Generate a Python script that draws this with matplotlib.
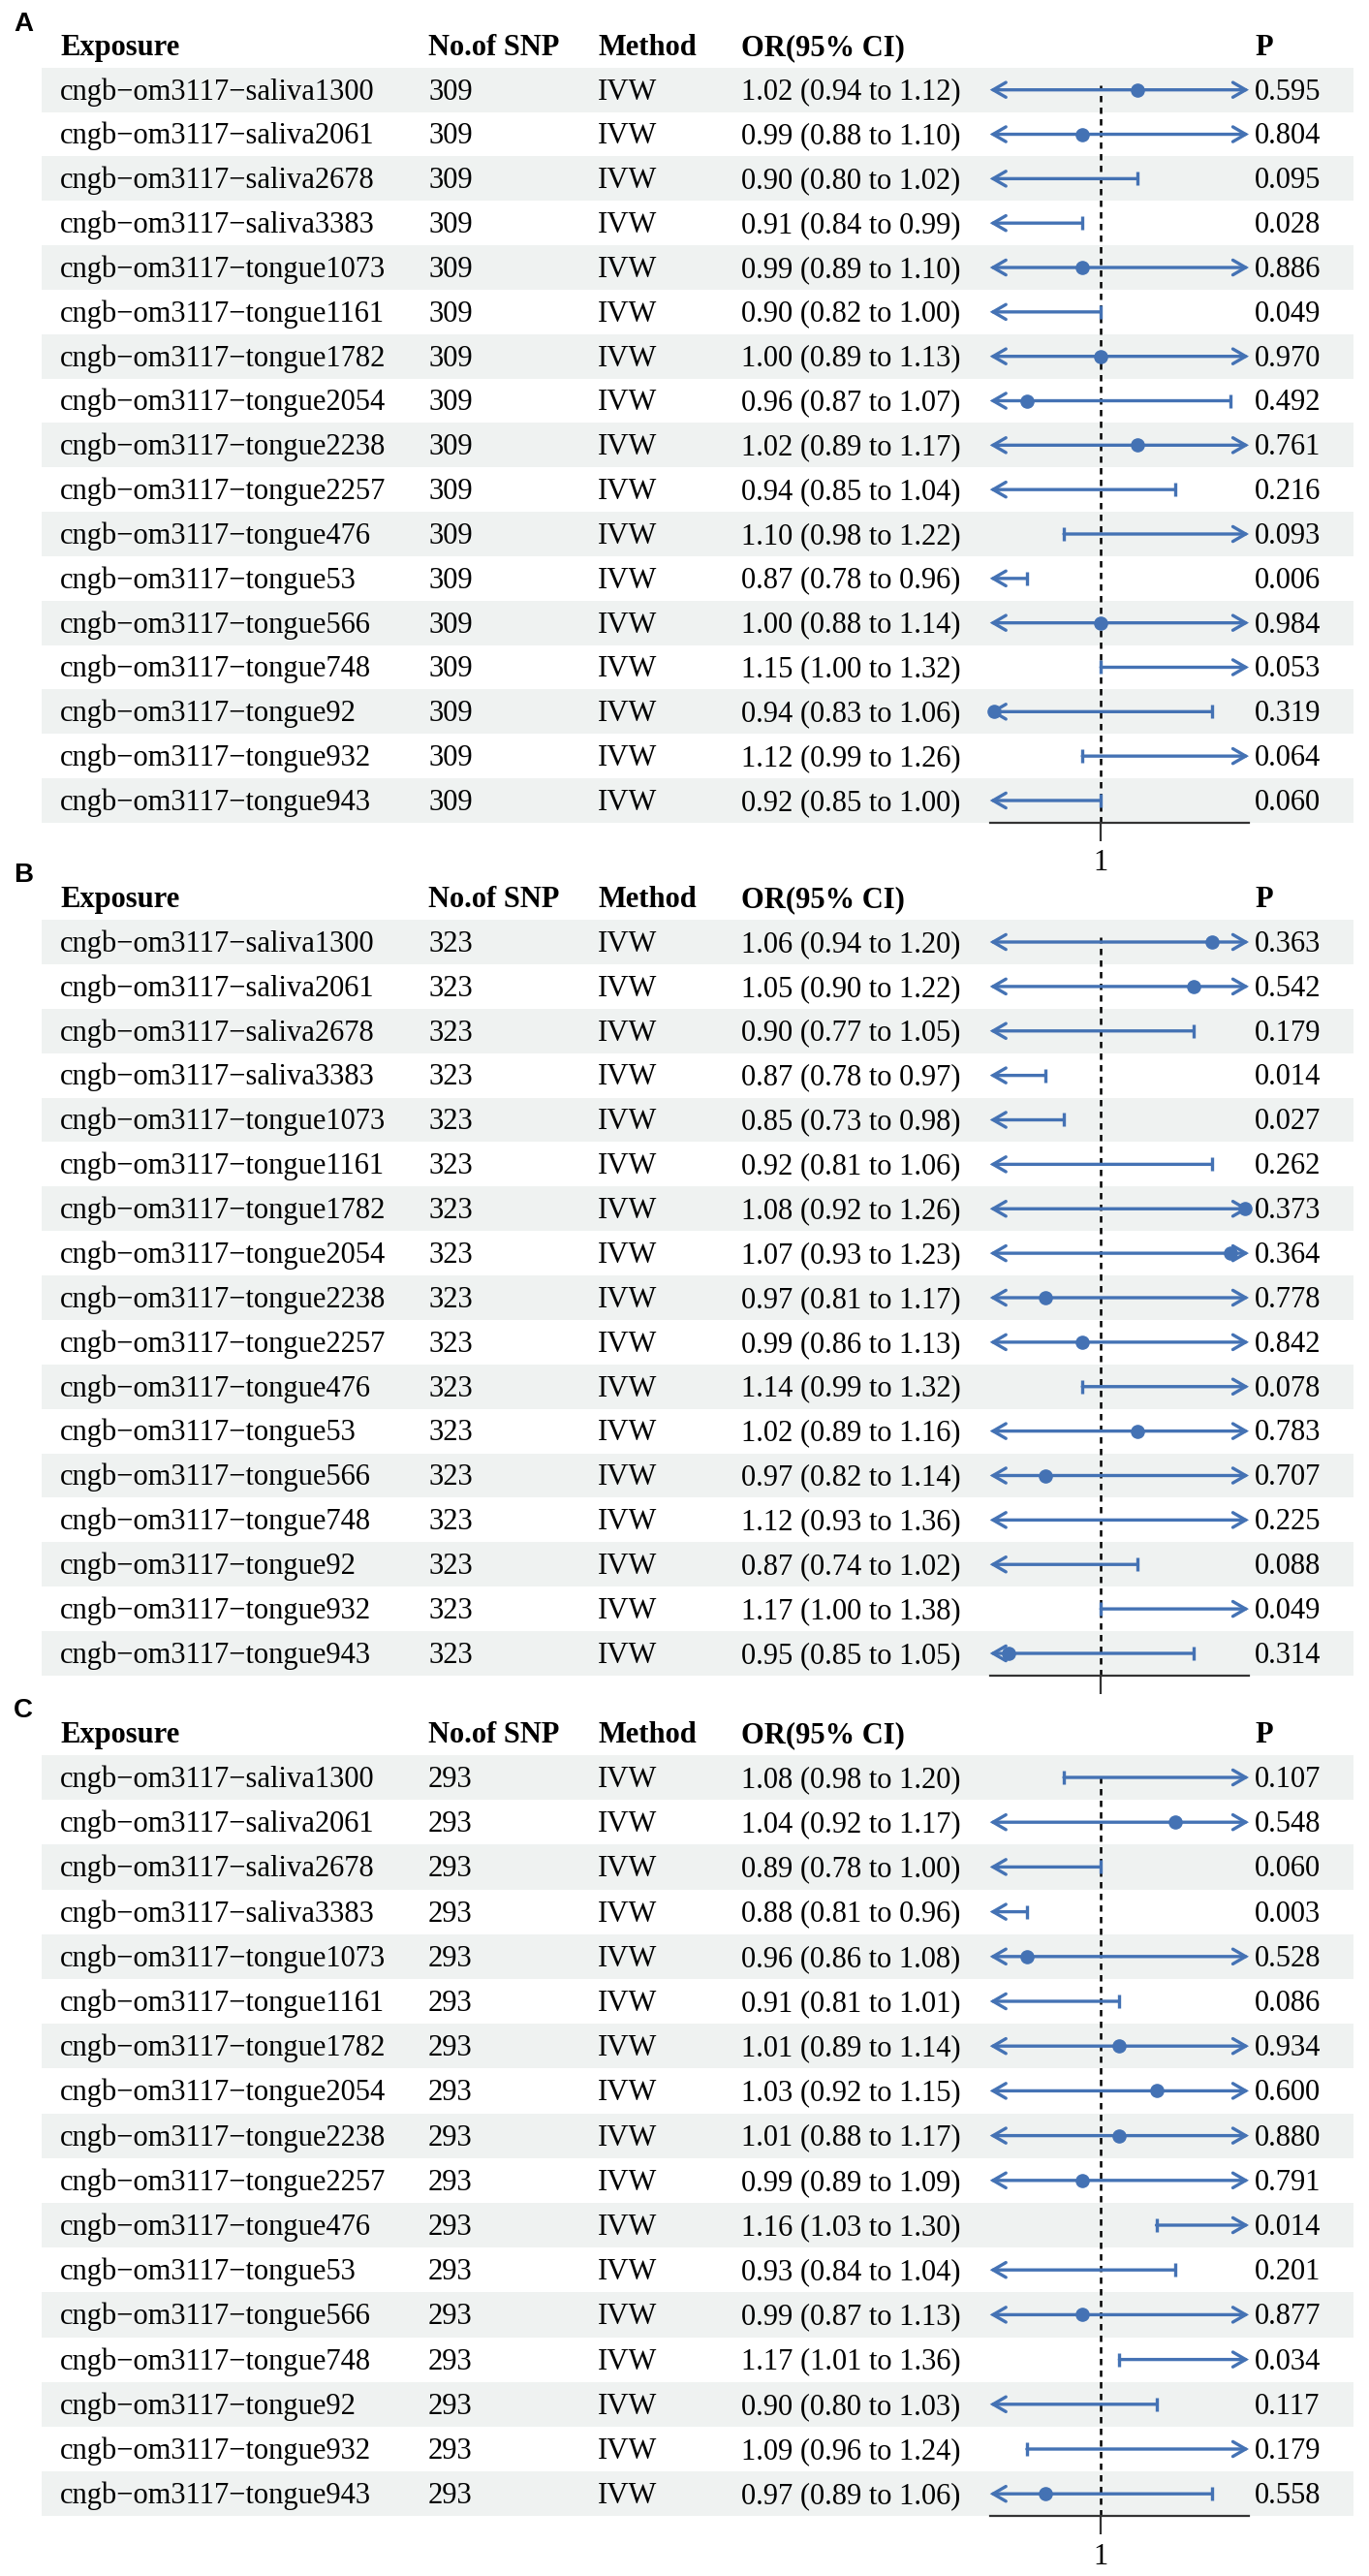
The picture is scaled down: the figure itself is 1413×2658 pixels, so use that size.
import numpy as np
import matplotlib.pyplot as plt

plt.rcParams['font.family'] = ['Liberation Serif', 'DejaVu Serif']

W, H, DPI = 1413, 2658, 100

# ---- data -------------------------------------------------------------
exposures = [
    "cngb−om3117−saliva1300", "cngb−om3117−saliva2061", "cngb−om3117−saliva2678",
    "cngb−om3117−saliva3383", "cngb−om3117−tongue1073", "cngb−om3117−tongue1161",
    "cngb−om3117−tongue1782", "cngb−om3117−tongue2054", "cngb−om3117−tongue2238",
    "cngb−om3117−tongue2257", "cngb−om3117−tongue476", "cngb−om3117−tongue53",
    "cngb−om3117−tongue566", "cngb−om3117−tongue748", "cngb−om3117−tongue92",
    "cngb−om3117−tongue932", "cngb−om3117−tongue943",
]
method = "IVW"
headers = ["Exposure", "No.of SNP", "Method", "OR(95% CI)", "P"]

nsnp_a = 309
or_a = [1.02, 0.99, 0.90, 0.91, 0.99, 0.90, 1.00, 0.96, 1.02, 0.938, 1.10, 0.87, 1.00, 1.15, 0.942, 1.12, 0.92]
lo_a = [0.937, 0.88, 0.80, 0.84, 0.89, 0.82, 0.89, 0.87, 0.89, 0.85, 0.98, 0.78, 0.88, 1.00, 0.83, 0.99, 0.85]
hi_a = [1.12, 1.10, 1.02, 0.99, 1.10, 1.00, 1.13, 1.07, 1.17, 1.04, 1.22, 0.96, 1.14, 1.32, 1.06, 1.26, 1.00]
p_a = [0.595, 0.804, 0.095, 0.028, 0.886, 0.049, 0.970, 0.492, 0.761, 0.216, 0.093, 0.006, 0.984, 0.053, 0.319, 0.064, 0.060]

nsnp_b = 323
or_b = [1.06, 1.05, 0.90, 0.87, 0.85, 0.92, 1.078, 1.07, 0.97, 0.99, 1.14, 1.02, 0.97, 1.12, 0.87, 1.17, 0.95]
lo_b = [0.937, 0.90, 0.77, 0.78, 0.73, 0.81, 0.92, 0.93, 0.81, 0.86, 0.99, 0.89, 0.82, 0.93, 0.74, 1.00, 0.85]
hi_b = [1.20, 1.22, 1.05, 0.97, 0.98, 1.06, 1.26, 1.23, 1.17, 1.13, 1.32, 1.16, 1.14, 1.36, 1.02, 1.38, 1.05]
p_b = [0.363, 0.542, 0.179, 0.014, 0.027, 0.262, 0.373, 0.364, 0.778, 0.842, 0.078, 0.783, 0.707, 0.225, 0.088, 0.049, 0.314]

nsnp_c = 293
or_c = [1.082, 1.04, 0.89, 0.88, 0.96, 0.91, 1.01, 1.03, 1.01, 0.99, 1.16, 0.93, 0.99, 1.17, 0.90, 1.09, 0.97]
lo_c = [0.98, 0.92, 0.78, 0.81, 0.86, 0.81, 0.89, 0.92, 0.88, 0.89, 1.03, 0.84, 0.87, 1.01, 0.80, 0.96, 0.89]
hi_c = [1.20, 1.17, 1.00, 0.96, 1.082, 1.01, 1.14, 1.15, 1.17, 1.09, 1.30, 1.04, 1.13, 1.36, 1.03, 1.24, 1.06]
p_c = [0.107, 0.548, 0.060, 0.003, 0.528, 0.086, 0.934, 0.600, 0.880, 0.791, 0.014, 0.201, 0.877, 0.034, 0.117, 0.179, 0.558]

x_range = (0.94, 1.08)
ref = 1.0

# ---- style ------------------------------------------------------------
BLUE = '#4472B4'
BAND = '#EFF2F1'
AXC = '#333333'
FS = 22
LW = 2.4
col_x = [62, 442, 617, 765, 1295]
forest_px = (1021.7, 1289)
band_px = (43, 1397)
base_off = 0.215

# label, row-1 centre (px), row spacing (px), panel-letter y (px), show tick label
layout = [
    ("A", 92.7, 45.83, 25, True),
    ("B", 972.0, 45.875, 903, False),
    ("C", 1834.0, 46.2, 1765, True),
]
panels = [
    (nsnp_a, or_a, lo_a, hi_a, p_a),
    (nsnp_b, or_b, lo_b, hi_b, p_b),
    (nsnp_c, or_c, lo_c, hi_c, p_c),
]


def px_rect(x0, y0, x1, y1):
    return [x0 / W, 1 - y1 / H, (x1 - x0) / W, (y1 - y0) / H]


def draw_ci(ax, y, est, lo, hi):
    xmin, xmax = x_range
    a, b = max(lo, xmin), min(hi, xmax)
    left, right = lo <= xmin, hi >= xmax
    head = ',head_length=0.95,head_width=0.55'
    if left or right:
        style = {(True, True): '<->', (True, False): '<-', (False, True): '->'}[(left, right)]
        ax.annotate('', xy=(b, y), xytext=(a, y), annotation_clip=False,
                    arrowprops=dict(arrowstyle=style + head, color=BLUE, lw=LW,
                                    shrinkA=0, shrinkB=0, mutation_scale=10,
                                    joinstyle='miter'))
    else:
        ax.plot([a, b], [y, y], color=BLUE, lw=LW, solid_capstyle='butt', clip_on=False)
    if not left:
        ax.plot([lo], [y], marker='|', ms=9.5, mew=LW, color=BLUE, clip_on=False)
    if not right:
        ax.plot([hi], [y], marker='|', ms=9.5, mew=LW, color=BLUE, clip_on=False)
    if xmin <= est <= xmax:
        ax.plot([est], [y], 'o', ms=9.5, color=BLUE, clip_on=False, zorder=4)


fig = plt.figure(figsize=(W / DPI, H / DPI), dpi=DPI)

for (letter, row1, sp, lab_y, show_tick), (nsnp, ors, los, his, ps) in zip(layout, panels):
    top = row1 - 1.5 * sp
    bottom = row1 + 16.5 * sp
    n = len(exposures)
    rows = np.arange(1, n + 1)

    tab = fig.add_axes(px_rect(0, top, W, bottom))
    tab.set_xlim(0, W)
    tab.set_ylim(n + 0.5, -0.5)
    tab.axis('off')
    for r in rows[::2]:
        tab.axhspan(r - 0.5, r + 0.5, xmin=band_px[0] / W, xmax=band_px[1] / W,
                    color=BAND, lw=0, zorder=0)

    for x, h in zip(col_x, headers):
        tab.text(x, base_off, h, fontsize=FS, fontweight='bold', va='baseline', ha='left')
    for r, name, o, l, hh, p in zip(rows, exposures, ors, los, his, ps):
        yb = r + base_off
        tab.text(col_x[0], yb, name, fontsize=FS, va='baseline')
        tab.text(col_x[1], yb, str(nsnp), fontsize=FS, va='baseline')
        tab.text(col_x[2], yb, method, fontsize=FS, va='baseline')
        tab.text(col_x[3], yb, f"{o:.2f} ({l:.2f} to {hh:.2f})", fontsize=FS, va='baseline')
        tab.text(col_x[4], yb, f"{p:.3f}", fontsize=FS, va='baseline')

    ax = fig.add_axes(px_rect(forest_px[0], top, forest_px[1], bottom))
    ax.patch.set_visible(False)
    ax.set_xlim(*x_range)
    ax.set_ylim(n + 0.5, -0.5)
    for s in ['left', 'right', 'top']:
        ax.spines[s].set_visible(False)
    ax.spines['bottom'].set_color(AXC)
    ax.spines['bottom'].set_linewidth(1.6)
    ax.set_yticks([])
    ax.set_xticks([ref])
    ax.set_xticklabels(['1'] if show_tick else [''])
    ax.tick_params(axis='x', length=13.7, width=1.6, color=AXC, pad=6, labelsize=FS)

    ax.plot([ref, ref], [n + 0.5, 0.9], color='black', lw=1.8,
            dashes=(2.6, 2.2), clip_on=False, zorder=1)
    for r, o, l, hh in zip(rows, ors, los, his):
        draw_ci(ax, r, o, l, hh)

    fig.text(24 / W, 1 - lab_y / H, letter, fontsize=20, fontweight='bold',
             family=['Liberation Sans', 'DejaVu Sans'], ha='center', va='center')

fig.savefig('out.png', dpi=DPI, facecolor='white')
